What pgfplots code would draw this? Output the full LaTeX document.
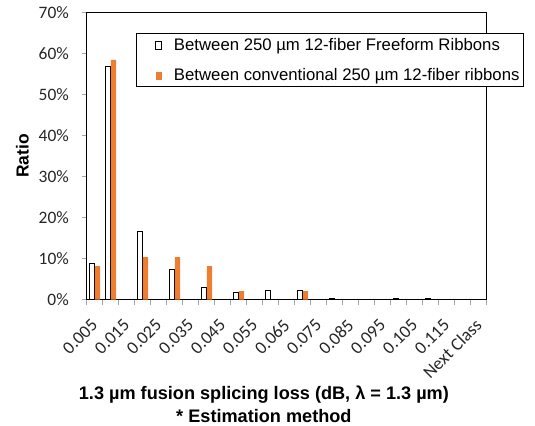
\documentclass[border=0pt]{standalone}
\usepackage{fontspec}
\setmainfont{Liberation Sans}
\newfontfamily\carlito{Carlito}
\usepackage{pgfplots}
\pgfplotsset{compat=1.18}
\definecolor{xlorange}{HTML}{ED7D31}
\begin{document}
\begin{tikzpicture}
\begin{axis}[
  at={(0,0)}, anchor=south west,
  scale only axis, width=400bp, height=287.4bp,
  xmin=-0.5, xmax=24.5, ymin=0, ymax=0.7,
  ybar=0.4bp, bar width=5.2bp,
  axis line style={black, line width=0.8bp},
  tick align=outside,
  xtick pos=bottom, ytick pos=left,
  xtick={0,2,4,6,8,10,12,14,16,18,20,22,24},
  xticklabels={0.005,0.015,0.025,0.035,0.045,0.055,0.065,0.075,0.085,0.095,0.105,0.115,Next Class},
  major x tick style={draw=none},
  minor xtick={-0.5,0.5,...,24.5},
  minor x tick style={gray!70, line width=0.6bp},
  minor tick length=5bp,
  ytick={0,0.1,0.2,0.3,0.4,0.5,0.6,0.7},
  yticklabels={0\%,10\%,20\%,30\%,40\%,50\%,60\%,70\%},
  major y tick style={gray!70, line width=0.6bp},
  major tick length=5bp,
  /pgf/number format/assume math mode=true,
  tick label style={font=\carlito\fontsize{17.5}{19}\selectfont, text=black!85},
  yticklabel style={anchor=east, inner sep=0pt, xshift=-12.7bp},
  xticklabel style={anchor=east, inner sep=0pt, yshift=-17.6bp, rotate=45, font=\carlito\fontsize{18}{19}\selectfont},
  ylabel={Ratio},
  every axis y label/.style={at={(axis description cs:-0.1605,0.5)}, rotate=90, anchor=center, font=\bfseries\fontsize{17.5}{20}\selectfont},
  xlabel={1.3 µm fusion splicing loss (dB, λ = 1.3 µm)\\* Estimation method},
  every axis x label/.style={at={(axis description cs:0.443,-0.363)}, anchor=center, align=center, font=\bfseries\fontsize{18.2}{23}\selectfont},
  legend style={at={(axis description cs:0.1225,0.927)}, anchor=north west, draw=black, line width=0.8bp,
    font=\fontsize{16.8}{20}\selectfont, inner xsep=2bp, inner ysep=2.5bp, row sep=13bp},
  legend cell align=left,
]
\addplot[fill=white, draw=black, line width=0.9bp,
  legend image code/.code={\path (-17bp,0) (16bp,0); \draw[fill=white, draw=black, line width=0.8bp] (0bp,-4bp) rectangle (6bp,4bp);}]
  coordinates {(0,0.088) (1,0.567) (3,0.166) (5,0.074) (7,0.031) (9,0.0185) (11,0.022) (13,0.022) (15,0.004) (19,0.004) (21,0.004)};
\addlegendentry{Between 250 µm 12-fiber Freeform Ribbons}
\addplot[fill=xlorange, draw=none,
  legend image code/.code={\path (-17bp,0) (16bp,0); \fill[xlorange] (0bp,-4bp) rectangle (6bp,4bp);}]
  coordinates {(0,0.082) (1,0.584) (3,0.104) (5,0.104) (7,0.082) (9,0.021) (13,0.021)};
\addlegendentry{Between conventional 250 µm 12-fiber ribbons\hspace{29bp}}
\end{axis}
\pgfresetboundingbox
\path[use as bounding box] (-86.7bp,-126.3bp) rectangle (448.3bp,299.7bp);
\end{tikzpicture}
\end{document}
